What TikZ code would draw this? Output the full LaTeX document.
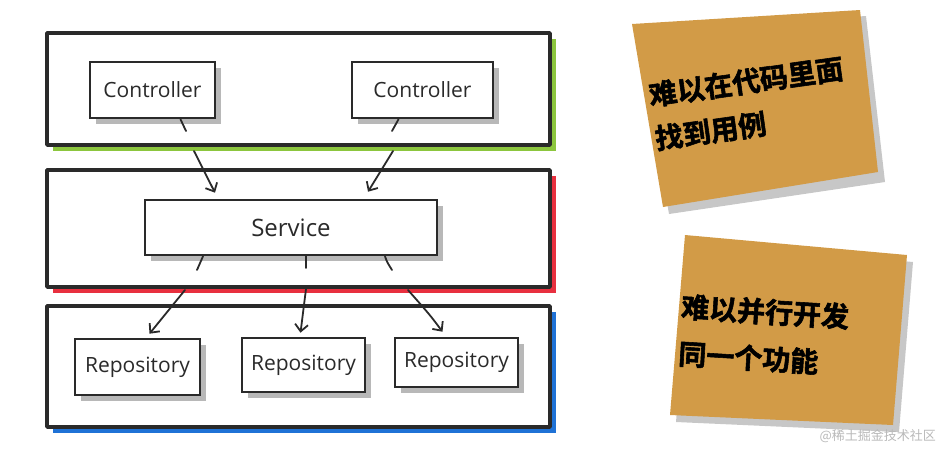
\documentclass[tikz,border=0pt]{standalone}
\usepackage{fontspec}
\setsansfont{Open Sans}
\newfontfamily\cjk{Noto Sans CJK SC}[BoldFont={Noto Sans CJK SC Bold}, BoldFeatures={FakeBold=2}]
\usetikzlibrary{arrows.meta,shadows,calc}
\definecolor{ink}{HTML}{2A2A2A}
\definecolor{lgreen}{HTML}{8CC63E}
\definecolor{lred}{HTML}{E8303F}
\definecolor{lblue}{HTML}{1F72D6}
\definecolor{note}{HTML}{D29B47}
\tikzset{
  layer/.style={draw=ink, line width=3.5pt, fill=white, minimum width=503pt, inner sep=0pt, line join=round},
  comp/.style={draw=ink, line width=2.6pt, fill=white, inner sep=0pt, font=\sffamily\fontsize{21}{24}\selectfont, text=ink,
    drop shadow={shadow xshift=6pt, shadow yshift=-6pt, fill=black, opacity=.28}},
  stub/.style={draw=ink, line width=1.8pt, line cap=round},
  dep/.style={draw=ink, line width=1.8pt, line cap=round, -{Straight Barb[length=7pt,width=13pt,line width=1.8pt]}},
  notetext/.style={font=\cjk\bfseries\fontsize{28}{44}\selectfont, anchor=north west, align=left, inner sep=0pt, text=black},
}
\begin{document}
\begin{tikzpicture}[x=1pt,y=-1pt]
\useasboundingbox (0,0) rectangle (942,451);
% layers
\node[layer, minimum height=112pt, drop shadow={shadow xshift=6pt, shadow yshift=-6pt, fill=lgreen, opacity=1}] (L1) at (298.5,89) {};
\node[layer, minimum height=117pt, drop shadow={shadow xshift=6pt, shadow yshift=-6pt, fill=lred, opacity=1}] (L2) at (298.5,228.5) {};
\node[layer, minimum height=121pt, drop shadow={shadow xshift=6pt, shadow yshift=-6pt, fill=lblue, opacity=1}] (L3) at (298.5,366.5) {};
% components
\node[comp, minimum width=125pt, minimum height=56pt] (c1) at (152.5,90) {Controller};
\node[comp, minimum width=141pt, minimum height=56pt] (c2) at (422.5,90) {Controller};
\node[comp, minimum width=292pt, minimum height=55pt, font=\sffamily\fontsize{24}{26}\selectfont] (sv) at (291,227.5) {Service};
\node[comp, minimum width=125pt, minimum height=56pt] (r1) at (137.5,367) {Repository};
\node[comp, minimum width=123pt, minimum height=54pt] (r2) at (303.5,365) {Repository};
\node[comp, minimum width=123pt, minimum height=49pt] (r3) at (456.5,362.5) {Repository};
% connectors
\coordinate (s1) at (186,131);
\coordinate (s2) at (392,131);
\coordinate (a1) at (194,151);
\coordinate (a2) at (393,151);
\draw[stub] ($(c1.south)+(28,0)$) -- (s1);
\draw[stub] ($(c2.south)+(-24,0)$) -- (s2);
\draw[dep] (a1) -- ($(sv.north)+(-76,-6)$);
\draw[dep] (a2) -- ($(sv.north)+(77,-7)$);
\coordinate (t1) at (197,270);
\coordinate (t2) at (306,268);
\coordinate (t3) at (392,270);
\coordinate (b1) at (185,290);
\coordinate (b2) at (306,289);
\coordinate (b3) at (408,290);
\draw[stub] ($(sv.south)+(-88,0)$) -- (t1);
\draw[stub] ($(sv.south)+(15,0)$) -- (t2);
\draw[stub] ($(sv.south)+(94,0)$) .. controls (387,262) .. (t3);
\draw[dep] (b1) -- ($(r1.north)+(12,-4)$);
\draw[dep] (b2) -- ($(r2.north)+(-3,-4)$);
\draw[dep] (b3) .. controls (430,315) .. ($(r3.north)+(-14,-5)$);
% sticky note 1
\fill[black, opacity=.22] (638,31) -- (866,16) -- (885,182) -- (669,214) -- cycle;
\fill[note] (632,24) -- (860,10) -- (878,172) -- (663,207) -- cycle;
\node[notetext, rotate=8] (n1) at (647,82) {难以在代码里面\\找到用例};
% sticky note 2
\fill[black, opacity=.22] (691,242) -- (913,262) -- (899,432) -- (676,422) -- cycle;
\fill[note] (685,235) -- (907,255) -- (893,425) -- (670,415) -- cycle;
\node[notetext, rotate=-3.5, font=\cjk\bfseries\fontsize{28}{47}\selectfont] (n2) at (682,293) {难以并行开发\\同一个功能};
% watermark
\node[font=\cjk\fontsize{13}{15}\selectfont, text=gray!55, anchor=east, inner sep=0pt] (wm) at (936,436) {@稀土掘金技术社区};
\end{tikzpicture}
\end{document}
